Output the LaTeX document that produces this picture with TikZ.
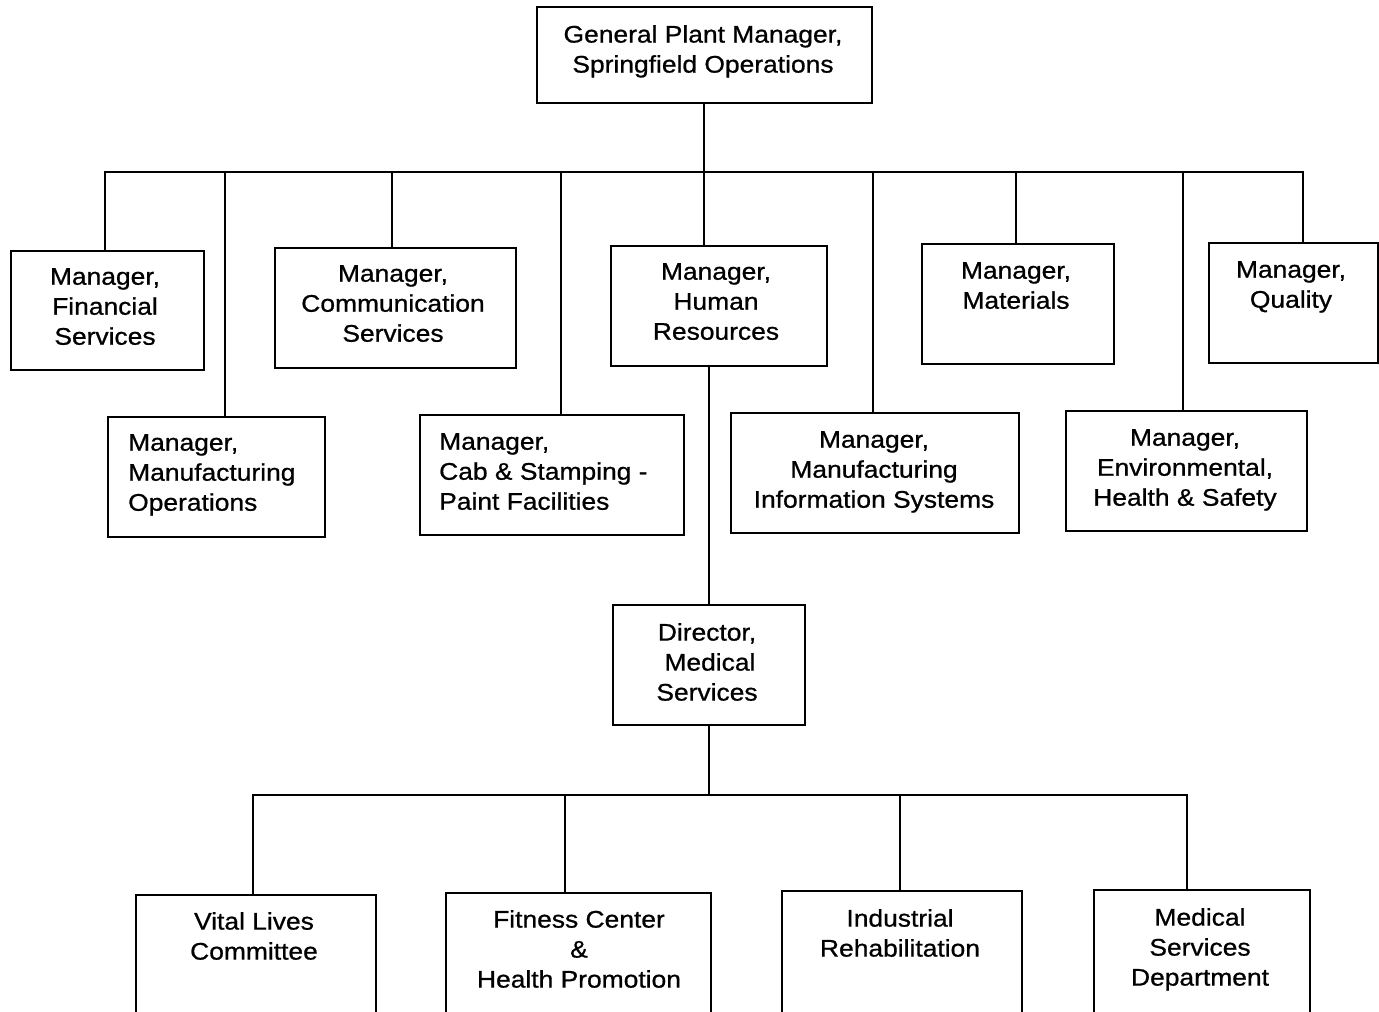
\documentclass[tikz,border=0pt]{standalone}
\usepackage{fontspec}
\setmainfont{Liberation Sans}[FakeStretch=1.1,FakeBold=0.8]
\begin{document}
\begin{tikzpicture}[x=1pt,y=-1pt,
  box/.style={draw, line width=2pt, inner sep=0pt, anchor=north west},
  txt/.style={font=\fontsize{24}{30}\selectfont, align=center, inner sep=0pt, anchor=north},
  ltxt/.style={font=\fontsize{24}{30}\selectfont, align=left, inner sep=0pt, anchor=north west},
  conn/.style={line width=2pt}]
\clip (0,0) rectangle (1379,1012);
\fill[white] (0,0) rectangle (1379,1012);
% boxes
\node[box, minimum width=335pt, minimum height=96pt] (top) at (536,6) {};
\node[box, minimum width=193pt, minimum height=119pt] (fin) at (10,250) {};
\node[box, minimum width=217pt, minimum height=120pt] (mfo) at (107,416) {};
\node[box, minimum width=241pt, minimum height=120pt] (com) at (274,247) {};
\node[box, minimum width=264pt, minimum height=120pt] (cab) at (419,414) {};
\node[box, minimum width=216pt, minimum height=120pt] (hr) at (610,245) {};
\node[box, minimum width=288pt, minimum height=120pt] (mis) at (730,412) {};
\node[box, minimum width=192pt, minimum height=120pt] (mat) at (921,243) {};
\node[box, minimum width=169pt, minimum height=120pt] (qua) at (1208,242) {};
\node[box, minimum width=241pt, minimum height=120pt] (env) at (1065,410) {};
\node[box, minimum width=192pt, minimum height=120pt] (dir) at (612,604) {};
\node[box, minimum width=240pt, minimum height=150pt] (vit) at (135,894) {};
\node[box, minimum width=265pt, minimum height=150pt] (fit) at (445,892) {};
\node[box, minimum width=240pt, minimum height=150pt] (ind) at (781,890) {};
\node[box, minimum width=216pt, minimum height=150pt] (med) at (1093,889) {};
% texts
\node[txt] (ttop) at (703,25) {General Plant Manager,\\Springfield Operations};
\node[txt] (tfin) at (105,268) {Manager,\\Financial\\Services};
\node[txt] (tcom) at (393,265) {Manager,\\Communication\\Services};
\node[txt] (thr) at (716,263) {Manager,\\Human\\Resources};
\node[txt] (tmat) at (1016,262) {Manager,\\Materials};
\node[txt] (tqua) at (1291,261) {Manager,\\Quality};
\node[ltxt] (tmfo) at (128,434) {Manager,\\Manufacturing\\Operations};
\node[ltxt] (tcab) at (439,433) {Manager,\\Cab \& Stamping -\\Paint Facilities};
\node[txt] (tmis) at (874,431) {Manager,\\Manufacturing\\Information Systems};
\node[txt] (tenv) at (1185,429) {Manager,\\Environmental,\\Health \& Safety};
\node[txt] (tdir) at (707,623) {Director,\\\hphantom{i}Medical\\Services};
\node[txt] (tvit) at (254,912) {Vital Lives\\Committee};
\node[txt] (tfit) at (579,910) {Fitness Center\\\&\\Health Promotion};
\node[txt] (tind) at (900,909) {Industrial\\Rehabilitation};
\node[txt] (tmed) at (1200,908) {Medical\\Services\\Department};
% upper bus
\coordinate (busL) at (105,172);
\coordinate (busR) at (1303,172);
\draw[conn, line cap=rect] (busL) -- (busR);
\coordinate (t1) at (704,172);
\draw[conn] (t1 |- top.south) -- (t1 |- hr.north);
\coordinate (b1) at (105,172);
\coordinate (b2) at (225,172);
\coordinate (b3) at (392,172);
\coordinate (b4) at (561,172);
\coordinate (b6) at (873,172);
\coordinate (b7) at (1016,172);
\coordinate (b8) at (1183,172);
\draw[conn] (b1) -- (b1 |- fin.north);
\draw[conn] (b2) -- (b2 |- mfo.north);
\draw[conn] (b3) -- (b3 |- com.north);
\draw[conn] (b4) -- (b4 |- cab.north);
\draw[conn] (b6) -- (b6 |- mis.north);
\draw[conn] (b7) -- (b7 |- mat.north);
\draw[conn] (b8) -- (b8 |- env.north);
\draw[conn] (busR) -- (busR |- qua.north);
% HR to director
\draw[conn] (dir.north) -- (dir.north |- hr.south);
% lower bus
\coordinate (c1) at (253,795);
\coordinate (c2) at (565,795);
\coordinate (c3) at (900,795);
\coordinate (c4) at (1187,795);
\draw[conn, line cap=rect] (c1) -- (c4);
\draw[conn] (dir.south) -- (dir.south |- c1);
\draw[conn] (c1) -- (c1 |- vit.north);
\draw[conn] (c2) -- (c2 |- fit.north);
\draw[conn] (c3) -- (c3 |- ind.north);
\draw[conn] (c4) -- (c4 |- med.north);
\end{tikzpicture}
\end{document}
